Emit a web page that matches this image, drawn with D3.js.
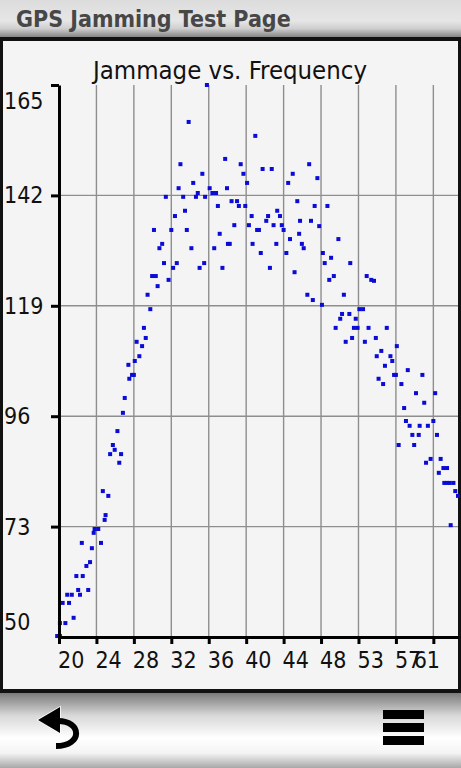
<!DOCTYPE html>
<html>
<head>
<meta charset="utf-8">
<script src="https://cdn.jsdelivr.net/npm/d3@7"></script>
<style>
  body { margin: 0; background: #fff; }
  svg { display: block; }
  .cond { font-family: "DejaVu Sans Condensed", "DejaVu Sans"; font-stretch: condensed; }
</style>
</head>
<body>
<svg width="461" height="768"></svg>
<script>
// data
const freq = [19.8, 20.1, 20.1, 20.7, 20.4, 21.1, 20.9, 21.4, 21.6, 21.9, 22.1, 22.3, 22.5, 22.6, 23.0, 23.2,
  23.4, 23.6, 23.8, 23.9, 24.3, 24.6, 24.8, 25.0, 25.1, 25.4, 25.6, 25.9, 26.1, 26.4, 26.6, 26.8,
  27.0, 27.2, 27.6, 27.7, 28.0, 28.2, 28.3, 28.5, 28.8, 29.1, 29.3, 29.5, 29.7, 30.0, 30.2, 30.4,
  30.6, 30.8, 31.0, 31.3, 31.5, 31.7, 32.0, 32.3, 32.5, 32.7, 32.9, 33.1, 33.3, 33.6, 33.8, 34.0,
  34.2, 34.5, 34.7, 35.0, 35.2, 35.4, 35.7, 35.9, 36.0, 36.2, 36.5, 36.8, 37.0, 37.2, 37.4, 37.6,
  37.9, 38.2, 38.4, 38.5, 38.7, 38.9, 39.2, 39.5, 39.7, 39.9, 40.2, 40.4, 40.6, 40.8, 41.1, 41.2,
  41.5, 41.7, 41.9, 42.1, 42.3, 42.7, 42.9, 43.1, 43.3, 43.5, 43.8, 43.9, 44.2, 44.4, 44.6, 44.9,
  45.1, 45.3, 45.6, 45.8, 46.1, 46.3, 46.4, 46.6, 46.8, 47.2, 47.4, 47.6, 47.8, 48.0, 48.3, 48.5,
  48.8, 48.9, 49.1, 49.4, 49.6, 49.8, 50.1, 50.3, 50.6, 50.8, 51.0, 51.2, 51.4, 51.8, 51.9, 52.1,
  52.3, 52.5, 52.7, 52.9, 53.3, 53.5, 53.7, 53.9, 54.2, 54.5, 54.7, 54.8, 55.0, 55.3, 55.5, 55.7,
  55.9, 56.3, 56.5, 56.7, 56.9, 57.0, 57.2, 57.5, 57.8, 58.0, 58.2, 58.4, 58.7, 58.9, 59.1, 59.4,
  59.5, 59.8, 60.0, 60.2, 60.4, 60.7, 61.0, 61.2, 61.4, 61.6, 61.8, 62.1, 62.2, 62.5, 62.5, 62.8,
  62.9, 63.2, 63.4, 63.7];
const jammage = [50.2, 50.2, 52.9, 52.9, 57.1, 57.1, 58.8, 58.8, 54.0, 62.7, 59.8, 58.8, 69.6, 62.7, 64.8, 59.8,
  65.6, 68.5, 71.7, 72.5, 72.5, 69.6, 80.4, 74.4, 75.4, 79.4, 88.1, 90.0, 89.0, 92.9, 86.3, 88.1,
  96.7, 99.8, 106.7, 103.8, 104.6, 104.6, 107.5, 111.5, 108.5, 110.6, 114.4, 112.3, 121.3, 118.3, 125.2, 134.8,
  125.2, 123.1, 131.0, 131.9, 127.9, 141.7, 124.4, 134.8, 126.9, 137.7, 127.9, 143.5, 148.5, 141.7, 138.8, 134.8,
  157.3, 131.0, 144.6, 141.7, 142.5, 126.9, 146.5, 127.9, 141.7, 165.0, 143.5, 142.5, 131.0, 142.5, 139.8, 134.0,
  126.9, 149.6, 143.5, 131.9, 131.9, 140.8, 135.8, 140.8, 139.8, 148.5, 146.5, 139.8, 144.6, 135.8, 137.7, 131.9,
  154.4, 134.8, 134.8, 130.0, 147.5, 136.7, 137.7, 126.9, 147.5, 135.8, 131.9, 138.8, 137.7, 135.8, 134.8, 130.0,
  144.6, 132.9, 146.5, 126.0, 140.8, 134.0, 136.7, 131.9, 131.0, 121.3, 148.5, 136.7, 120.2, 139.8, 145.6, 135.6,
  119.2, 130.0, 127.9, 139.8, 124.4, 129.0, 125.2, 114.4, 132.9, 116.3, 117.3, 121.3, 111.5, 117.3, 127.9, 112.3,
  114.4, 116.3, 114.4, 118.3, 118.3, 111.5, 125.2, 114.4, 124.4, 124.2, 112.3, 108.5, 103.8, 109.6, 102.7, 106.5,
  114.4, 108.5, 107.5, 104.6, 104.6, 110.6, 90.0, 102.7, 97.7, 95.0, 105.6, 94.0, 92.1, 90.0, 100.8, 92.1,
  94.0, 104.6, 98.8, 86.3, 94.0, 87.1, 95.0, 100.8, 92.1, 84.2, 87.1, 85.2, 82.1, 85.2, 82.1, 82.1,
  73.3, 82.1, 80.4, 79.4];

const xTickValues = [20, 24.1, 28.2, 32.3, 36.4, 40.5, 44.6, 48.7, 52.8, 56.9, 61];
const xTickLabels = ["20", "24", "28", "32", "36", "40", "44", "48", "53", "57", "61"];
const yTickValues = [50, 73, 96, 119, 142, 165];

const svg = d3.select("svg");
const W = 461, H = 768;

// gradients for the device bars
const defs = svg.append("defs");
const gTop = defs.append("linearGradient").attr("id", "topbar").attr("x1", 0).attr("y1", 0).attr("x2", 0).attr("y2", 1);
[[0, "#dcdcdc"], [0.55, "#e6e6e6"], [0.75, "#cfcfcf"], [1, "#7c7c7c"]]
  .forEach(s => gTop.append("stop").attr("offset", s[0]).attr("stop-color", s[1]));
const gBot = defs.append("linearGradient").attr("id", "botbar").attr("x1", 0).attr("y1", 0).attr("x2", 0).attr("y2", 1);
[[0, "#7a7a7a"], [0.3, "#d8d8d8"], [0.6, "#ffffff"], [0.8, "#f4f4f4"], [1, "#a8a8a8"]]
  .forEach(s => gBot.append("stop").attr("offset", s[0]).attr("stop-color", s[1]));

svg.append("rect").attr("width", W).attr("height", 38).attr("fill", "url(#topbar)");
svg.append("text").attr("class", "cond")
  .attr("x", 16).attr("y", 27)
  .style("font-size", "23px").style("font-weight", "bold").attr("fill", "#474747")
  .text("GPS Jamming Test Page");

// panel
svg.append("rect").attr("x", 0).attr("y", 37).attr("width", W).attr("height", 656).attr("fill", "#111");
svg.append("rect").attr("x", 3).attr("y", 41).attr("width", W - 6).attr("height", 648).attr("fill", "#f4f4f4");

svg.append("rect").attr("x", 0).attr("y", 693).attr("width", W).attr("height", H - 693).attr("fill", "url(#botbar)");

// chart
const x = d3.scaleLinear().domain([20, 63.7]).range([59, 458]);
const y = d3.scaleLinear().domain([50, 165]).range([637, 85]);

svg.append("text").attr("class", "cond")
  .attr("x", 230).attr("y", 79).attr("text-anchor", "middle")
  .style("font-size", "25.5px").attr("fill", "#111")
  .text("Jammage vs. Frequency");

// grid
const grid = svg.append("g").attr("stroke", "#8e8e8e").attr("stroke-width", 1.4);
grid.selectAll("line.v").data(xTickValues.slice(1)).join("line")
  .attr("class", "v")
  .attr("x1", d => x(d)).attr("x2", d => x(d))
  .attr("y1", y(165)).attr("y2", y(50));
grid.selectAll("line.h").data(yTickValues.slice(1, -1)).join("line")
  .attr("class", "h")
  .attr("x1", x(20)).attr("x2", x(63.7))
  .attr("y1", d => y(d)).attr("y2", d => y(d));

// points
svg.append("g").attr("fill", "#0b0bd6")
  .selectAll("rect").data(freq.map((f, i) => [f, jammage[i]])).join("rect")
  .attr("x", d => x(d[0]) - 2).attr("y", d => y(d[1]) - 2)
  .attr("width", 4).attr("height", 4);

// axes
const xAxis = svg.append("g").attr("transform", `translate(0,${y(50)})`)
  .call(d3.axisBottom(x).tickValues(xTickValues).tickFormat("").tickSize(7).tickSizeOuter(0));
const yAxis = svg.append("g").attr("transform", `translate(${x(20)},0)`)
  .call(d3.axisLeft(y).tickValues(yTickValues.slice(1)).tickFormat("").tickSize(8).tickSizeOuter(0));
[xAxis, yAxis].forEach(a => {
  a.select(".domain").attr("stroke", "#000").attr("stroke-width", 3);
  a.selectAll(".tick line").attr("stroke", "#000").attr("stroke-width", 3);
});

// tick labels
const lblX = svg.append("g").attr("class", "cond").style("font-size", "23px").attr("fill", "#111");
lblX.selectAll("text").data(xTickValues).join("text")
  .attr("y", 668)
  .text((d, i) => xTickLabels[i])
  .attr("x", function (d) {
    const w = this.getComputedTextLength();
    return Math.min(x(d) - 1, 440 - w);
  });

const lblY = svg.append("g").attr("class", "cond").style("font-size", "23px").attr("fill", "#111");
lblY.selectAll("text").data(yTickValues).join("text")
  .attr("x", 4)
  .attr("y", d => Math.max(101, Math.min(622, y(d))) + 8)
  .text(d => d);

// bottom buttons
const back = svg.append("g");
back.append("path").attr("d", "M38,720 L60,707 L60,733 Z").attr("fill", "#000")
  .attr("stroke", "#fff").attr("stroke-width", 1.5).attr("paint-order", "stroke");
back.append("path").attr("d", "M58,721 C82,721 83,746 56,746")
  .attr("fill", "none").attr("stroke", "#000").attr("stroke-width", 6);

svg.append("g").attr("fill", "#000")
  .selectAll("rect").data([710, 723, 736]).join("rect")
  .attr("x", 383).attr("y", d => d).attr("width", 41).attr("height", 9);
</script>
</body>
</html>
